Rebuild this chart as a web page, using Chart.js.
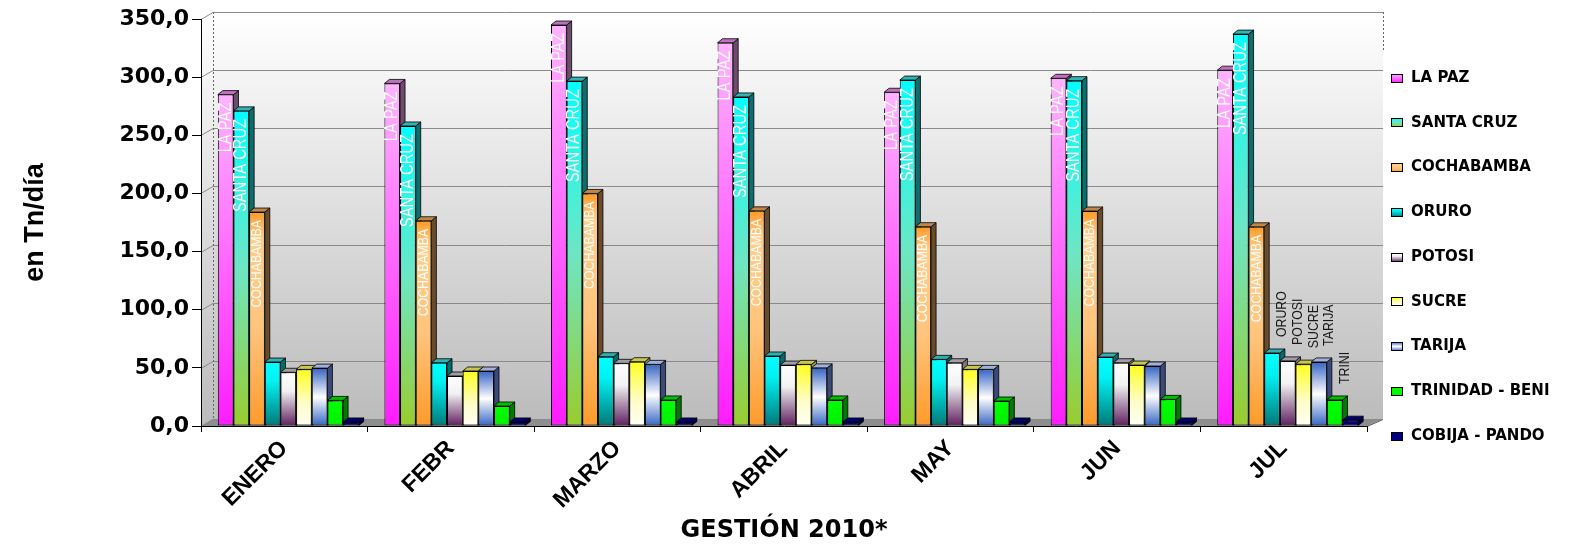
<!DOCTYPE html>
<html>
<head>
<meta charset="utf-8">
<script src="https://cdn.jsdelivr.net/npm/chart.js@4.4.1/dist/chart.umd.min.js"></script>
<style>
  body { margin: 0; background: #fff; }
</style>
</head>
<body>
<canvas id="chart" width="1572" height="544"></canvas>
<script>
// meses (eje X)
const months = ['ENERO', 'FEBR', 'MARZO', 'ABRIL', 'MAY', 'JUN', 'JUL'];

// valores en Tn/dia por ciudad
const laPaz      = [285, 294.6, 344.8, 329.6, 287, 299, 306];
const santaCruz  = [271, 258, 296.6, 283, 297.5, 297, 337];
const cochabamba = [184, 176.5, 200, 185, 171.4, 184.9, 171.3];
const oruro      = [55, 54.4, 59.6, 60.2, 57.3, 59.3, 62.8];
const potosi     = [46.2, 43, 53.9, 52.4, 54.4, 54.4, 56];
const sucre      = [48.7, 47.3, 55.3, 53, 48.7, 52.4, 53.2];
const tarija     = [49.8, 47.3, 53, 50, 48.7, 51.6, 55.1];
const trinidad   = [22, 17.2, 22.4, 22.4, 21.5, 22.9, 22.4];
const cobija     = [3.5, 3.5, 3.5, 3.5, 3.5, 3.5, 5];

const seriesNames = ['LA PAZ', 'SANTA CRUZ', 'COCHABAMBA', 'ORURO', 'POTOSI', 'SUCRE', 'TARIJA', 'TRINIDAD - BENI', 'COBIJA - PANDO'];
const seriesValues = [laPaz, santaCruz, cochabamba, oruro, potosi, sucre, tarija, trinidad, cobija];

// etiquetas dentro de las barras y las del ultimo mes
const insideLabels = ['LA PAZ', 'SANTA CRUZ', 'COCHABAMBA'];
const lastMonthLabels = ['ORURO', 'POTOSI', 'SUCRE', 'TARIJA', 'TRINI'];

const yTicks = [0, 50, 100, 150, 200, 250, 300, 350];

// colores: degradado frontal (arriba -> abajo), cara lateral, cara superior
const frontStops = [
  [[0, '#ffb4ff'], [1, '#ff1cff']],
  [[0, '#00ffff'], [0.5, '#6ee6c4'], [1, '#99cc2e']],
  [[0, '#ff9a26'], [0.12, '#ffcf8c'], [0.55, '#ffc47c'], [1, '#ff9a2a']],
  [[0, '#00ffff'], [0.3, '#00f2f2'], [1, '#007878']],
  [[0, '#ffffff'], [0.35, '#f2f2f2'], [1, '#5e1e5e']],
  [[0, '#ffff1e'], [0.6, '#fffcc8'], [1, '#fffff4']],
  [[0, '#3464c4'], [0.5, '#ffffff'], [1, '#3464c4']],
  [[0, '#00ff00'], [1, '#00f000']],
  [[0, '#000080'], [1, '#000080']]
];
const sideColors = ['#6e4c6e', '#0c6e6e', '#6b4c2a', '#006c6c', '#807480', '#9a9a40', '#3a4a7a', '#007a00', '#000048'];
const topColors  = ['#c070c0', '#30b4b4', '#c08848', '#30b0b0', '#a49ca4', '#c8c850', '#a0b0d8', '#00c000', '#000070'];

const BAR_DX = 5, BAR_DY = 4;     // profundidad de las barras
const WALL_DX = 12, WALL_DY = 7;  // profundidad de la pared
const BAR_SHIFT = 4;

function gradientFor(c, i, yTop, yBase) {
  const stops = frontStops[i];
  const g = c.createLinearGradient(0, yTop, 0, Math.max(yBase, yTop + 1));
  stops.forEach(s => g.addColorStop(s[0], s[1]));
  return g;
}

// texto vertical "angosto" (Arial Narrow no esta instalada)
function narrowText(ctx, txt, x, y, size, color, align) {
  ctx.save();
  ctx.translate(x, y);
  ctx.rotate(-Math.PI / 2);
  ctx.scale(0.82, 1);
  ctx.font = size + 'px "Liberation Sans", Arial, sans-serif';
  ctx.fillStyle = color;
  ctx.textAlign = align;
  ctx.textBaseline = 'middle';
  ctx.fillText(txt, 0, 0);
  ctx.restore();
}

const datasets = seriesValues.map((vals, i) => ({
  label: seriesNames[i],
  data: vals,
  borderColor: '#000',
  borderWidth: 1,
  borderSkipped: false,
  backgroundColor: ctx => {
    const chart = ctx.chart;
    if (!chart.chartArea || ctx.type !== 'data') return frontStops[i][0][1];
    const y = chart.scales.y;
    return gradientFor(chart.ctx, i, y.getPixelForValue(ctx.raw), y.getPixelForValue(0));
  }
}));

const wall3d = {
  id: 'wall3d',
  beforeDraw(chart) {
    const { ctx, chartArea: a } = chart;
    const ys = chart.scales.y;
    const rightBack = a.right + 16;
    ctx.save();
    // pared
    const g = ctx.createLinearGradient(0, a.top - WALL_DY, 0, a.bottom - WALL_DY);
    g.addColorStop(0, '#ffffff');
    g.addColorStop(1, '#bcbcbc');
    ctx.fillStyle = g;
    ctx.beginPath();
    ctx.moveTo(a.left, a.top);
    ctx.lineTo(a.left + WALL_DX, a.top - WALL_DY);
    ctx.lineTo(rightBack, a.top - WALL_DY);
    ctx.lineTo(rightBack, a.bottom - WALL_DY);
    ctx.lineTo(a.left, a.bottom);
    ctx.closePath();
    ctx.fill();
    // piso
    ctx.fillStyle = '#8e8e8e';
    ctx.beginPath();
    ctx.moveTo(a.left, a.bottom);
    ctx.lineTo(a.right, a.bottom);
    ctx.lineTo(rightBack, a.bottom - WALL_DY);
    ctx.lineTo(a.left + WALL_DX, a.bottom - WALL_DY);
    ctx.closePath();
    ctx.fill();
    ctx.strokeStyle = '#555';
    ctx.lineWidth = 1;
    ctx.beginPath();
    ctx.moveTo(a.right, a.bottom + 0.5);
    ctx.lineTo(rightBack, a.bottom - WALL_DY + 0.5);
    ctx.stroke();
    // lineas de division
    ctx.strokeStyle = '#8a8a8a';
    yTicks.forEach(v => {
      const y = Math.round(ys.getPixelForValue(v)) + 0.5;
      ctx.beginPath();
      ctx.moveTo(a.left, y);
      ctx.lineTo(a.left + WALL_DX, y - WALL_DY);
      ctx.lineTo(rightBack, y - WALL_DY);
      ctx.stroke();
    });
    // aristas punteadas
    ctx.setLineDash([2, 2]);
    ctx.strokeStyle = '#666';
    ctx.beginPath();
    ctx.moveTo(a.left + WALL_DX + 0.5, a.top - WALL_DY);
    ctx.lineTo(a.left + WALL_DX + 0.5, a.bottom - WALL_DY);
    ctx.moveTo(rightBack + 0.5, a.top - WALL_DY);
    ctx.lineTo(rightBack + 0.5, a.top + 33);
    ctx.stroke();
    ctx.restore();
  },
  beforeDatasetsDraw(chart) {
    const { ctx } = chart;
    ctx.save();
    ctx.translate(BAR_SHIFT, 0);
    chart.data.datasets.forEach((ds, i) => {
      const meta = chart.getDatasetMeta(i);
      meta.data.forEach(el => {
        const p = el.getProps(['x', 'y', 'base', 'width'], true);
        const l = p.x - p.width / 2, r = p.x + p.width / 2;
        ctx.lineWidth = 0.8;
        ctx.strokeStyle = '#000';
        ctx.fillStyle = sideColors[i];
        ctx.beginPath();
        ctx.moveTo(r, p.y);
        ctx.lineTo(r + BAR_DX, p.y - BAR_DY);
        ctx.lineTo(r + BAR_DX, p.base - BAR_DY);
        ctx.lineTo(r, p.base);
        ctx.closePath();
        ctx.fill();
        ctx.stroke();
        ctx.fillStyle = topColors[i];
        ctx.beginPath();
        ctx.moveTo(l, p.y);
        ctx.lineTo(r, p.y);
        ctx.lineTo(r + BAR_DX, p.y - BAR_DY);
        ctx.lineTo(l + BAR_DX, p.y - BAR_DY);
        ctx.closePath();
        ctx.fill();
        ctx.stroke();
      });
    });
  },
  afterDatasetsDraw(chart) {
    const { ctx } = chart;
    // nombres dentro de las barras
    insideLabels.forEach((txt, i) => {
      const meta = chart.getDatasetMeta(i);
      meta.data.forEach(el => {
        const p = el.getProps(['x', 'y'], true);
        narrowText(ctx, txt, p.x, p.y + 8, i === 2 ? 15 : 18, '#ffffff', 'right');
      });
    });
    // nombres sobre las barras pequenas del ultimo mes
    const last = months.length - 1;
    lastMonthLabels.forEach((txt, k) => {
      const p = chart.getDatasetMeta(k + 3).data[last].getProps(['x', 'y'], true);
      narrowText(ctx, txt, p.x + 10, p.y - 16, 15, '#1a1a1a', 'left');
    });
    ctx.restore();
  },
  afterDraw(chart) {
    const { ctx } = chart;
    // leyenda
    ctx.save();
    seriesNames.forEach((name, i) => {
      const cy = 78 + i * 44.75;
      const bx = 1391, by = Math.round(cy - 4.5);
      ctx.fillStyle = gradientFor(ctx, i, by, by + 9);
      ctx.fillRect(bx, by, 12, 9);
      ctx.strokeStyle = '#000';
      ctx.lineWidth = 1;
      ctx.strokeRect(bx + 0.5, by + 0.5, 11, 8);
      ctx.fillStyle = '#000';
      ctx.font = 'bold 15px "DejaVu Sans", sans-serif';
      ctx.textAlign = 'left';
      ctx.textBaseline = 'middle';
      ctx.fillText(name, 1411, cy);
    });
    ctx.restore();
  }
};

new Chart(document.getElementById('chart').getContext('2d'), {
  type: 'bar',
  data: { labels: months, datasets },
  options: {
    responsive: false,
    animation: false,
    layout: { padding: { top: 19, right: 205, left: 0, bottom: 0 } },
    datasets: { bar: { categoryPercentage: 0.846, barPercentage: 1 } },
    plugins: {
      legend: { display: false },
      tooltip: { enabled: false }
    },
    scales: {
      x: {
        afterFit: s => { s.height = 118; },
        grid: { drawOnChartArea: false, tickLength: 6, color: '#000' },
        border: { color: '#000' },
        ticks: {
          autoSkip: false,
          minRotation: 45,
          maxRotation: 45,
          color: '#000',
          font: { family: '"Liberation Sans", Arial, sans-serif', weight: 'bold', size: 23 }
        },
        title: {
          display: true,
          text: 'GESTIÓN 2010*',
          color: '#000',
          font: { family: '"DejaVu Sans", sans-serif', weight: 'bold', size: 24 },
          padding: { top: 0, bottom: -1 }
        }
      },
      y: {
        min: 0,
        max: 350,
        afterFit: s => { s.width = 201; },
        afterBuildTicks: s => { s.ticks = yTicks.map(v => ({ value: v })); },
        grid: { drawOnChartArea: false, tickLength: 9, color: '#000' },
        border: { color: '#000' },
        ticks: {
          padding: 3,
          color: '#000',
          font: { family: '"DejaVu Sans", sans-serif', weight: 'bold', size: 22 },
          callback: v => v.toFixed(1).replace('.', ',')
        },
        title: {
          display: true,
          text: 'en Tn/día',
          color: '#000',
          font: { family: '"Liberation Sans", Arial, sans-serif', weight: 'bold', size: 27 },
          padding: { top: 19, bottom: 0 }
        }
      }
    }
  },
  plugins: [wall3d]
});
</script>
</body>
</html>
